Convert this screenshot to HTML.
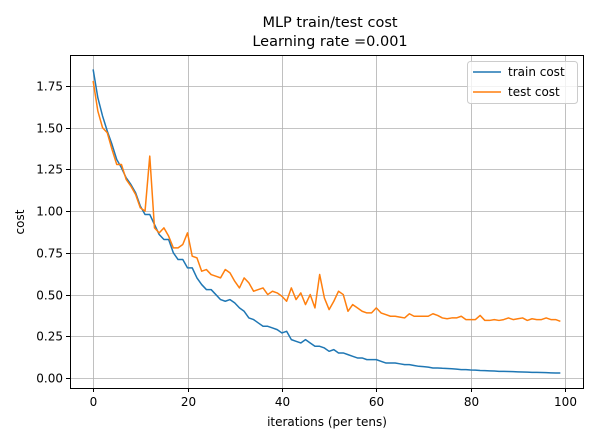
<!DOCTYPE html>
<html><head><meta charset="utf-8"><style>
body{margin:0;background:#fff;font-family:"Liberation Sans","DejaVu Sans",sans-serif;}
</style></head><body>
<svg width="600" height="443" xmlns="http://www.w3.org/2000/svg" font-family="DejaVu Sans, Liberation Sans, sans-serif">
<g id="grid"></g>
<g id="lines"></g>
<rect x="70.5" y="55.5" width="513" height="333" fill="none" stroke="#000" stroke-width="1"/>
<g id="ticks" font-size="12" fill="#000"></g>
<text x="330" y="27" text-anchor="middle" font-size="14.5">MLP train/test cost</text>
<text x="330" y="46" text-anchor="middle" font-size="14.5">Learning rate =0.001</text>
<text x="327" y="426" text-anchor="middle" font-size="12">iterations (per tens)</text>
<text x="24" y="222" text-anchor="middle" font-size="12" transform="rotate(-90 24 222)">cost</text>
<g>
<rect x="467.5" y="61.5" width="110" height="42" rx="3" fill="#fff" fill-opacity="0.8" stroke="#ccc"/>
<line x1="473" y1="72" x2="501" y2="72" stroke="#1f77b4" stroke-width="1.5"/>
<text x="508" y="76" font-size="12">train cost</text>
<line x1="473" y1="92" x2="501" y2="92" stroke="#ff7f0e" stroke-width="1.5"/>
<text x="508" y="96" font-size="12">test cost</text>
</g>
</svg>
<script>
const xTicks=[0,20,40,60,80,100];
const yTicks=[0,0.25,0.5,0.75,1.0,1.25,1.5,1.75];
const yTickLabels=["0.00","0.25","0.50","0.75","1.00","1.25","1.50","1.75"];
const trainCost=[1.85,1.68,1.57,1.48,1.40,1.31,1.26,1.20,1.16,1.11,1.03,0.98,0.98,0.92,0.86,0.83,0.83,0.75,0.71,0.71,0.66,0.66,0.60,0.56,0.53,0.53,0.50,0.47,0.46,0.47,0.45,0.42,0.40,0.36,0.35,0.33,0.31,0.31,0.30,0.29,0.27,0.28,0.23,0.22,0.21,0.23,0.21,0.19,0.19,0.18,0.16,0.17,0.15,0.15,0.14,0.13,0.12,0.12,0.11,0.11,0.11,0.10,0.09,0.09,0.09,0.085,0.08,0.08,0.075,0.07,0.068,0.065,0.06,0.06,0.058,0.057,0.055,0.053,0.05,0.05,0.048,0.047,0.045,0.044,0.043,0.042,0.04,0.04,0.039,0.038,0.037,0.036,0.035,0.034,0.034,0.033,0.032,0.031,0.03,0.03];
const testCost=[1.78,1.60,1.50,1.47,1.37,1.28,1.28,1.19,1.15,1.10,1.02,1.00,1.33,0.90,0.87,0.90,0.85,0.78,0.78,0.80,0.87,0.73,0.72,0.64,0.65,0.62,0.61,0.60,0.65,0.63,0.58,0.54,0.60,0.57,0.52,0.53,0.54,0.50,0.52,0.51,0.49,0.46,0.54,0.47,0.51,0.44,0.50,0.42,0.62,0.48,0.41,0.46,0.52,0.50,0.40,0.44,0.42,0.40,0.39,0.39,0.42,0.39,0.38,0.37,0.37,0.365,0.36,0.385,0.37,0.37,0.37,0.37,0.385,0.375,0.36,0.355,0.36,0.36,0.37,0.35,0.35,0.35,0.375,0.345,0.345,0.35,0.345,0.35,0.36,0.35,0.355,0.36,0.345,0.355,0.35,0.35,0.36,0.35,0.35,0.34];
const NS="http://www.w3.org/2000/svg";
const X0=70,X1=583,Y0=55,Y1=388,xmin=-4.9,xmax=103.8,ymin=-0.06,ymax=1.936;
const sx=v=>X0+(v-xmin)/(xmax-xmin)*(X1-X0);
const sy=v=>Y1-(v-ymin)/(ymax-ymin)*(Y1-Y0);
function mk(t,a,p){const e=document.createElementNS(NS,t);for(const k in a)e.setAttribute(k,a[k]);p.appendChild(e);return e;}
const grid=document.getElementById('grid'),ticks=document.getElementById('ticks'),lines=document.getElementById('lines');
xTicks.forEach(v=>{const x=Math.round(sx(v))+0.5;
 const g=mk('line',{x1:x,x2:x,y1:Y0,y2:Y1,stroke:'#b0b0b0','stroke-width':0.8},grid);
 
 
 const tk=mk('line',{x1:x,x2:x,y1:Y1,y2:Y1+4,stroke:'#000'},ticks);
 
 
 const t=mk('text',{x:x,y:Y1+18,'text-anchor':'middle'},ticks);t.textContent=v;
 
 
});
yTicks.forEach((v,i)=>{const y=Math.round(sy(v))+0.5;
 const g=mk('line',{x1:X0,x2:X1,y1:y,y2:y,stroke:'#b0b0b0','stroke-width':0.8},grid);
 
 
 const tk=mk('line',{x1:X0-4,x2:X0,y1:y,y2:y,stroke:'#000'},ticks);
 
 
 const t=mk('text',{x:X0-7,y:y+4,'text-anchor':'end'},ticks);t.textContent=yTickLabels[i];
 
 
});
function series(arr,color,name){
 const d=arr.map((v,i)=>(i?'L':'M')+sx(i).toFixed(2)+','+sy(v).toFixed(2)).join('');
 const p=mk('path',{d:d,fill:'none',stroke:color,'stroke-width':1.5,'stroke-linejoin':'round'},lines);
 
 
}
series(trainCost,'#1f77b4','train-cost-line');
series(testCost,'#ff7f0e','test-cost-line');
</script>
</body></html>
